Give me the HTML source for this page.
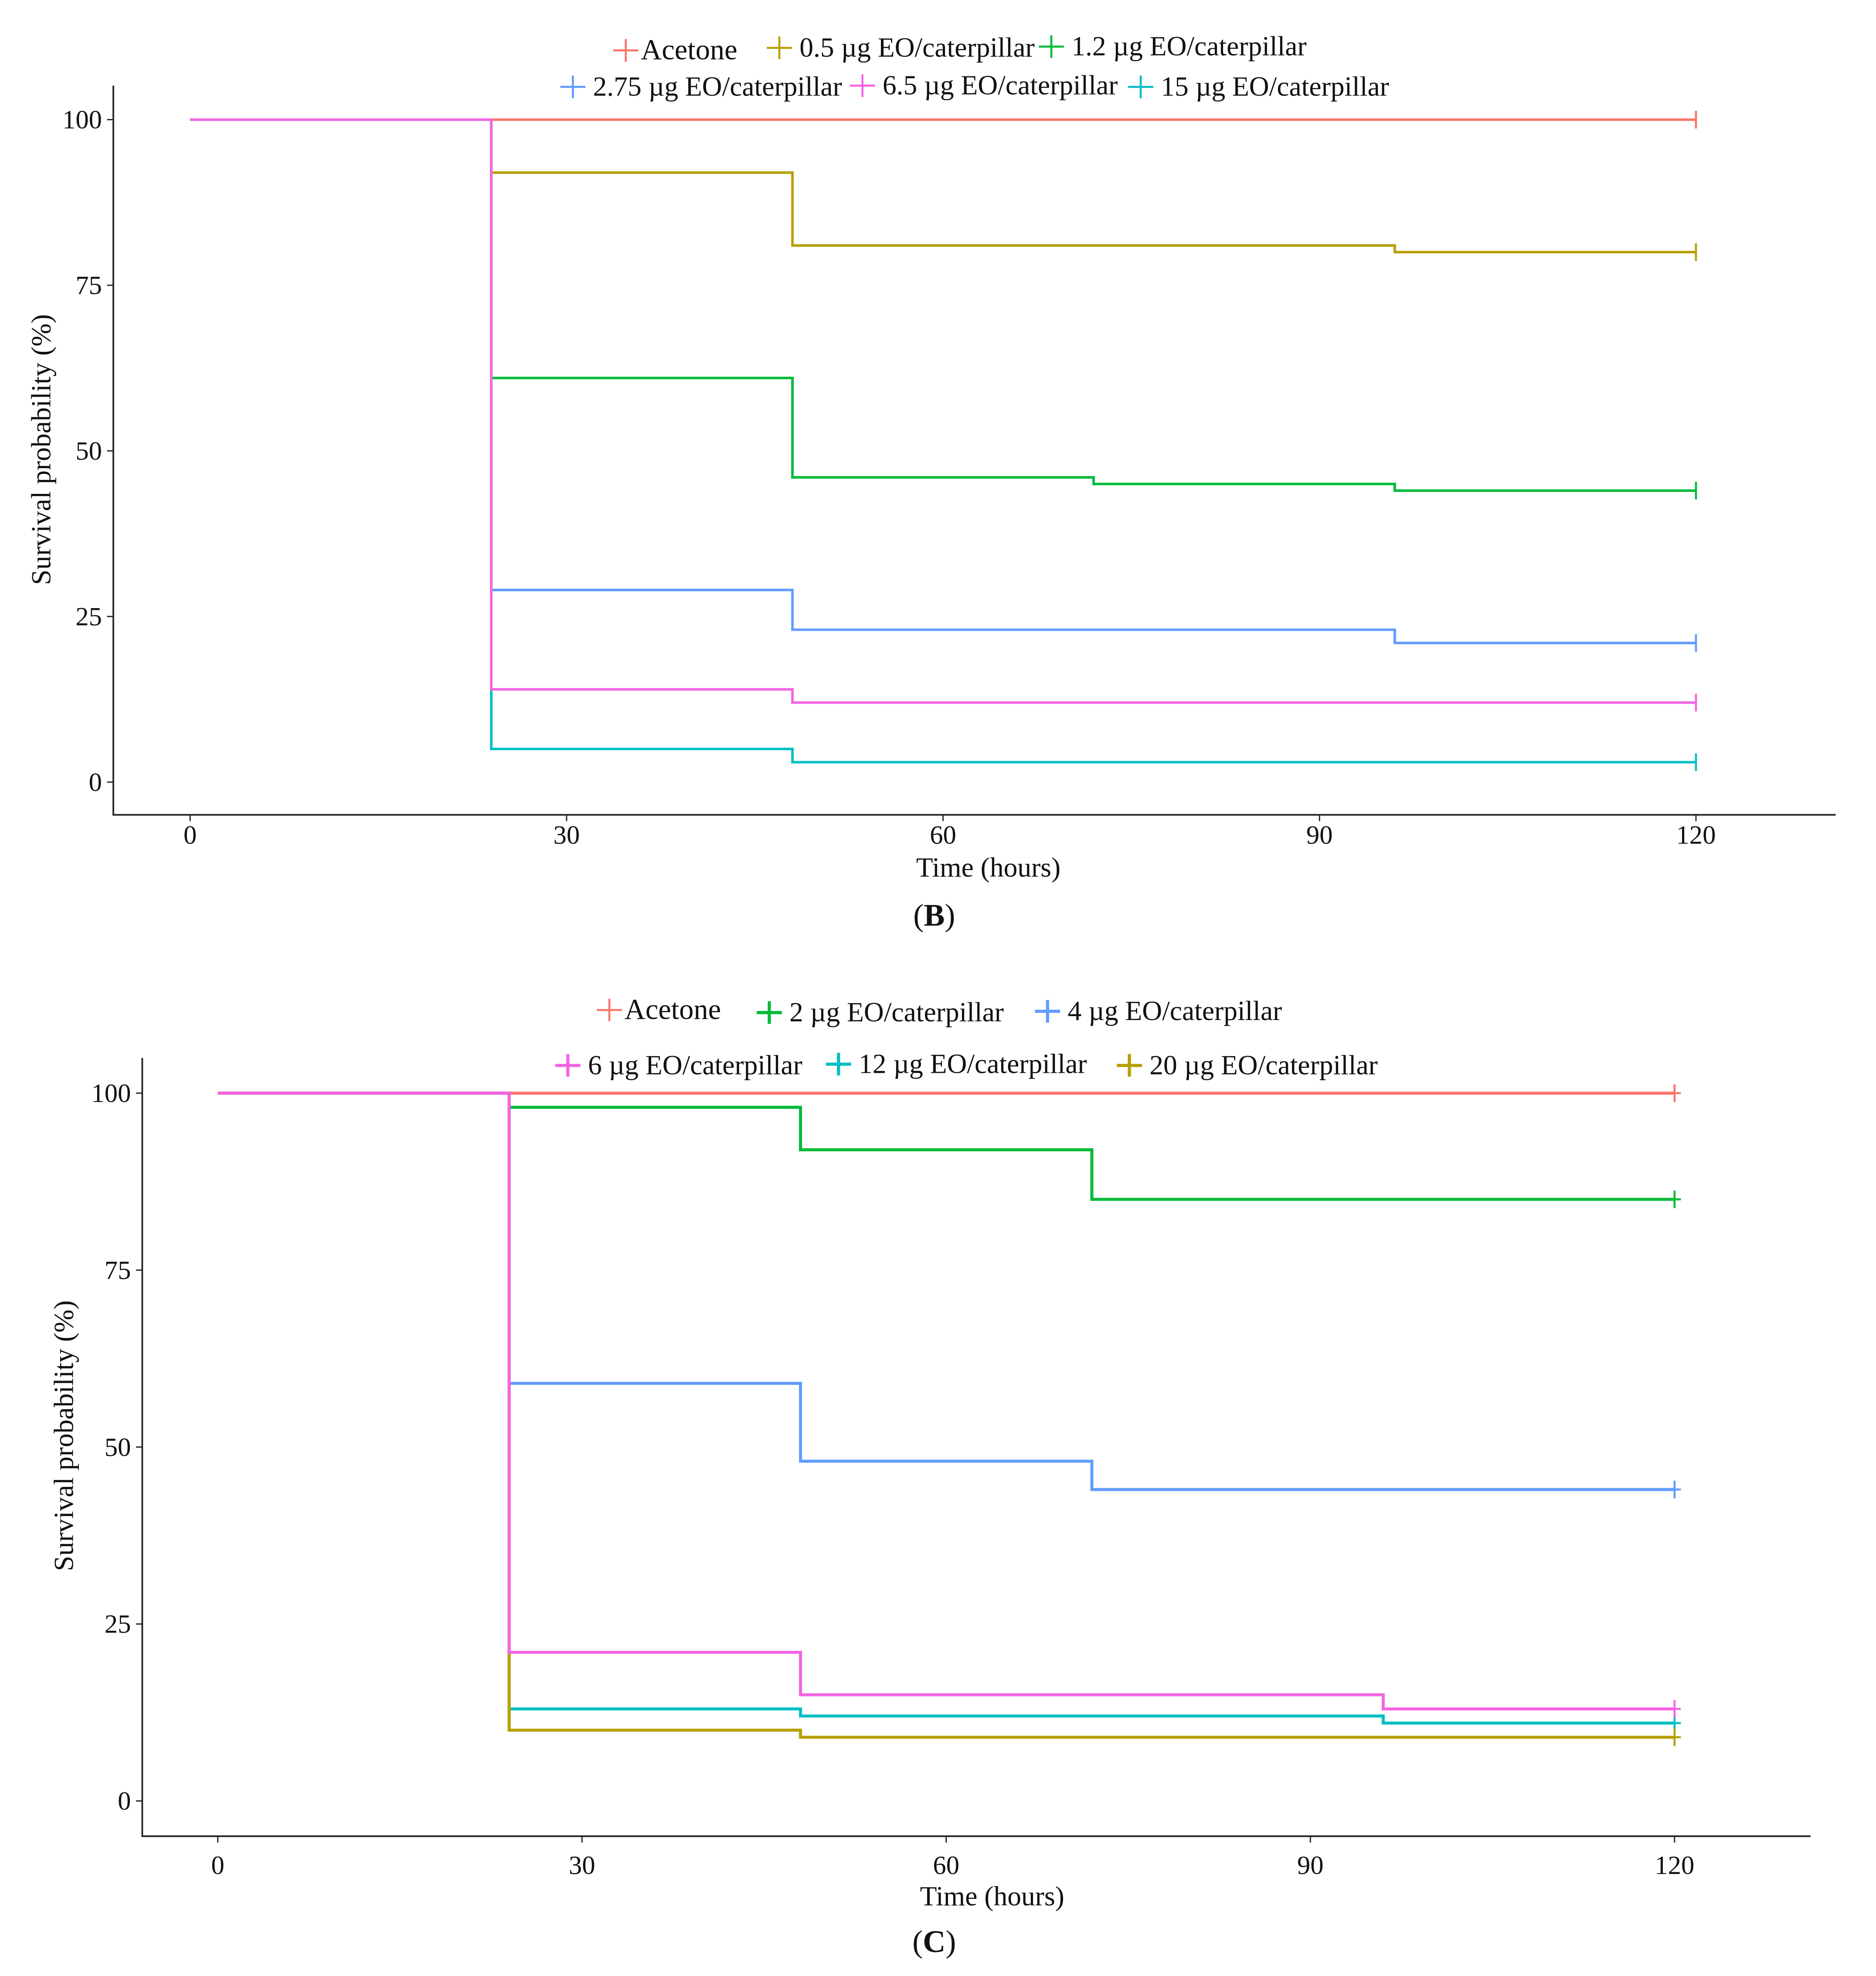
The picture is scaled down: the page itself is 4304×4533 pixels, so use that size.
<!DOCTYPE html>
<html><head><meta charset="utf-8"><style>
html,body{margin:0;padding:0;background:#fff}
svg{display:block}
text{font-family:"Liberation Serif",serif;fill:#111}
</style></head><body>
<svg id="fig" width="4304" height="4533" viewBox="0 0 1490 1569" preserveAspectRatio="none" xmlns="http://www.w3.org/2000/svg">
<g id="pB"></g>
<g id="pC"></g>
</svg>
<script>
// Panel B data
const timesB=[0,24,48,72,96,120];
const acetoneB=[100,100,100,100,100,100];
const s05B=[100,92,81,81,80,80];
const s12B=[100,61,46,45,44,44];
const s275B=[100,29,23,23,21,21];
const s65B=[100,14,12,12,12,12];
const s15B=[100,5,3,3,3,3];
const labelsB=["Acetone","0.5 µg EO/caterpillar","1.2 µg EO/caterpillar","2.75 µg EO/caterpillar","6.5 µg EO/caterpillar","15 µg EO/caterpillar"];
// Panel C data
const timesC=[0,24,48,72,96,120];
const acetoneC=[100,100,100,100,100,100];
const s2C=[100,98,92,85,85,85];
const s4C=[100,59,48,44,44,44];
const s6C=[100,21,15,15,13,13];
const s12C=[100,13,12,12,11,11];
const s20C=[100,10,9,9,9,9];
const labelsC=["Acetone","2 µg EO/caterpillar","4 µg EO/caterpillar","6 µg EO/caterpillar","12 µg EO/caterpillar","20 µg EO/caterpillar"];
const xTicks=[0,30,60,90,120];
const yTicks=[0,25,50,75,100];

const NS="http://www.w3.org/2000/svg";
function el(p,t,a){const e=document.createElementNS(NS,t);for(const k in a)e.setAttribute(k,a[k]);p.appendChild(e);return e;}

function panel(g,cfg){
  const xs=v=>cfg.x0+(cfg.x120-cfg.x0)*v/120;
  const ys=v=>cfg.y0+(cfg.y100-cfg.y0)*v/100;
  const ax=el(g,'path',{d:`M${cfg.axL},${cfg.axT}V${cfg.axB}H${cfg.axR}`,stroke:'#222','stroke-width':1.3,fill:'none'});
  
  
  xTicks.forEach(v=>{
    const t=el(g,'line',{x1:xs(v),x2:xs(v),y1:cfg.axB,y2:cfg.axB+5,stroke:'#222'});
    
    
    const l=el(g,'text',{x:xs(v),y:cfg.axB+cfg.xlOff,'text-anchor':'middle','font-size':21});
    l.textContent=v;
    
    
  });
  yTicks.forEach(v=>{
    const t=el(g,'line',{x1:cfg.axL-5,x2:cfg.axL,y1:ys(v),y2:ys(v),stroke:'#222'});
    
    
    const l=el(g,'text',{x:cfg.axL-9,y:ys(v)+7,'text-anchor':'end','font-size':21});
    l.textContent=v;
    
    
  });
  const xt=el(g,'text',{x:cfg.xtX,y:cfg.xtY,'text-anchor':'middle','font-size':22});
  xt.textContent='Time (hours)';
  
  
  const yt=el(g,'text',{x:0,y:0,'text-anchor':'middle','font-size':22,transform:`translate(${cfg.ytX},${cfg.ytY}) rotate(-90)`});
  yt.textContent='Survival probability (%)';
  
  
  const cap=el(g,'text',{x:cfg.capX,y:cfg.capY,'text-anchor':'middle','font-size':25});
  cap.innerHTML='(<tspan font-weight="bold">'+cfg.cap+'</tspan>)';
  
  
  cfg.order.forEach(i=>{
    const vals=cfg.series[i];
    let d=`M${xs(cfg.times[0])},${ys(vals[0])}`;
    for(let k=1;k<cfg.times.length;k++){d+=`H${xs(cfg.times[k])}V${ys(vals[k])}`;}
    const p=el(g,'path',{d,stroke:cfg.colors[i],'stroke-width':cfg.sw,fill:'none'});
    
    
    const last=vals[vals.length-1],xl=xs(cfg.times[cfg.times.length-1]);
    const c=el(g,'path',{d:`M${xl},${ys(last)-7}V${ys(last)+7}`+(cfg.plus?`M${xl-5},${ys(last)}H${xl+5}`:''),stroke:cfg.colors[i],'stroke-width':1.6,fill:'none'});
    
    
  });
  cfg.legend.forEach((L,i)=>{
    const lg=el(g,'g',{});
    
    
    el(lg,'path',{d:`M${L[0]-10},${L[1]}h20M${L[0]},${L[1]-9}v18`,stroke:cfg.colors[i],'stroke-width':cfg.plus&&i>0?2.5:1.6});
    const t=el(lg,'text',{x:L[0]+(i==0?12:16),y:L[1]+7,'font-size':i==0?23:22});
    t.textContent=cfg.labels[i];
  });
}
const colB=['#F8766D','#B79F00','#00BA38','#619CFF','#F564E3','#00BFC4'];
panel(document.getElementById('pB'),{
  x0:151,x120:1347,y0:621,y100:95,axL:90,axT:68,axB:647,axR:1458,xlOff:23,
  xtX:785,xtY:696,ytX:40,ytY:357,capX:742,capY:735,cap:'B',sw:2,plus:false,
  times:timesB,series:[acetoneB,s05B,s12B,s275B,s65B,s15B],colors:colB,labels:labelsB,
  order:[0,1,2,3,5,4],
  legend:[[497,40],[619,38],[835,37],[455,69],[685,68],[906,69]]
});
const colC=['#F8766D','#00BA38','#619CFF','#F564E3','#00BFC4','#B79F00'];
panel(document.getElementById('pC'),{
  x0:173,x120:1330,y0:1430,y100:868,axL:113,axT:840,axB:1458,axR:1438,xlOff:30,
  xtX:788,xtY:1513,ytX:58,ytY:1140,capX:742,capY:1550,cap:'C',sw:2.4,plus:true,
  times:timesC,series:[acetoneC,s2C,s4C,s6C,s12C,s20C],colors:colC,labels:labelsC,
  order:[0,1,2,4,5,3],
  legend:[[484,802],[611,804],[832,803],[451,846],[666,845],[897,846]]
});
</script>
</body></html>
